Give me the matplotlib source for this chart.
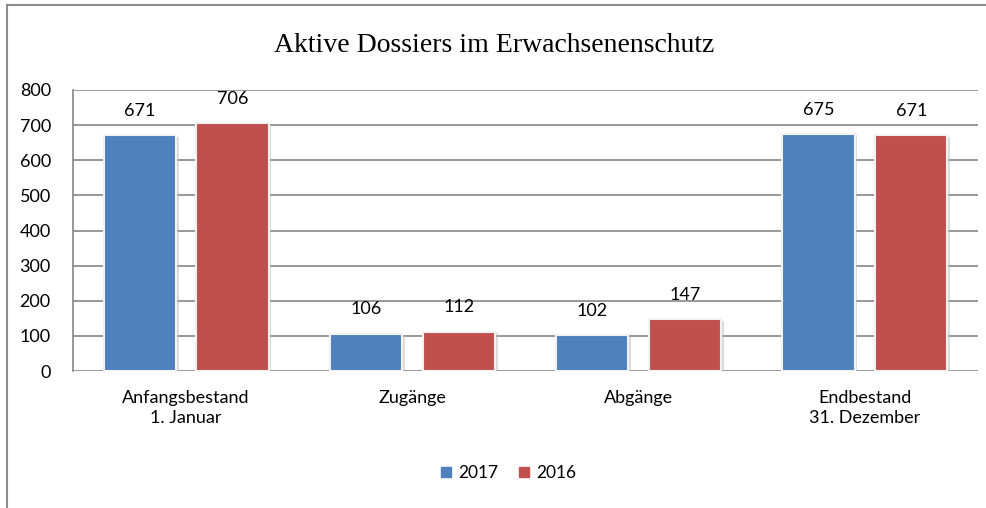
import matplotlib
matplotlib.use('Agg')
import matplotlib.pyplot as plt
import matplotlib.patheffects as pe
from matplotlib.lines import Line2D
import numpy as np

categories = ["Anfangsbestand\n1. Januar", "Zugänge", "Abgänge", "Endbestand\n31. Dezember"]
series_names = ["2017", "2016"]
values_2017 = [671, 106, 102, 675]
values_2016 = [706, 112, 147, 671]
colors = ['#4f81bd', '#c0504d']

plt.rcParams['font.family'] = ['Lato', 'DejaVu Sans']

fig = plt.figure(figsize=(9.86, 5.08), dpi=100)
ax = fig.add_axes([73/986, 1 - 371/508, (978 - 73)/986, (371 - 90)/508])

x = np.arange(len(categories))
width = 0.32
offset = 0.205
shadow = [pe.SimplePatchShadow(offset=(2, -1), shadow_rgbFace='#bbbbbb', alpha=0.5), pe.Normal()]
for i, (name, vals) in enumerate(zip(series_names, [values_2017, values_2016])):
    pos = x + (-offset if i == 0 else offset)
    bars = ax.bar(pos, vals, width, color=colors[i], edgecolor='#f2f2f2', linewidth=1.5,
                  zorder=3, label=name)
    for b in bars:
        b.set_path_effects(shadow)
    for p, v in zip(pos, vals):
        ax.annotate(str(v), (p, v), xytext=(0, 17.5), textcoords='offset points',
                    ha='center', va='center', fontsize=13, color='#000000')

ax.set_xlim(-0.5, 3.5)
ax.set_ylim(0, 800)
ax.set_yticks(range(0, 801, 100))
ax.yaxis.grid(True, color='#868686', linewidth=1.2, zorder=0)
ax.set_axisbelow(True)
ax.set_xticks(x)
ax.set_xticklabels(categories, fontsize=13, linespacing=1.3)
ax.tick_params(axis='x', length=0, pad=14)
ax.tick_params(axis='y', length=0, pad=16, labelsize=13)
for s in ['top', 'right', 'bottom']:
    ax.spines[s].set_visible(False)
ax.spines['left'].set_color('#868686')
ax.spines['left'].set_linewidth(1.2)

fig.text(494/986, 1 - 45/508, 'Aktive Dossiers im Erwachsenenschutz', ha='center', va='center',
         fontsize=20, family=['Liberation Serif', 'DejaVu Serif'])

handles = [Line2D([], [], marker='s', linestyle='none', markersize=7, color=c) for c in colors]
fig.legend(handles, series_names, loc='center', bbox_to_anchor=(508/986, 1 - 473/508), ncol=2,
           frameon=False, fontsize=12.5, handlelength=0.7, handletextpad=0.35, columnspacing=1.1)

# outer chart frame (left and top edges visible)
fig.add_artist(Line2D([7/986, 7/986], [0, 1 - 5/508], color='#8c8c8c', linewidth=1.5))
fig.add_artist(Line2D([7/986, 1], [1 - 5/508, 1 - 5/508], color='#8c8c8c', linewidth=1.5))

fig.savefig('out.png', dpi=100)
